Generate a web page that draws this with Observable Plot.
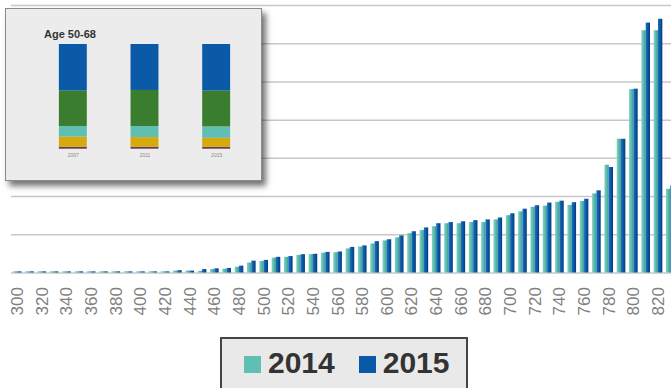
<!DOCTYPE html>
<html>
<head>
<meta charset="utf-8">
<script src="https://cdn.jsdelivr.net/npm/d3@7"></script>
<script src="https://cdn.jsdelivr.net/npm/@observablehq/plot@0.6"></script>
<style>
  html, body { margin: 0; padding: 0; background: #fff; overflow: hidden; }
  #page { position: relative; width: 671px; height: 388px; overflow: hidden; font-family: "Liberation Sans", Arial, sans-serif; }
  #main { position: absolute; left: 0; top: 0; width: 690px; }
  #main svg { max-width: none !important; }
  #inset {
    position: absolute; left: 5px; top: 8px; width: 255px; height: 171px;
    background: #ececec; border: 1px solid #8a8a8a;
    box-shadow: 4px 5px 6px rgba(0,0,0,0.55);
  }
  #inset .title { position: absolute; left: 38px; top: 19px; font: bold 11px "Liberation Sans", Arial, sans-serif; color: #333; }
  #inset svg { position: absolute; left: 0; top: 0; }
  #legend {
    position: absolute; left: 220px; top: 337px; width: 248px; height: 60px;
    background: #e9e9e9; border: 2px solid #444; box-sizing: border-box;
    display: flex; align-items: flex-start; padding: 7px 0 0 22px; gap: 0;
    font: bold 30px "Liberation Sans", Arial, sans-serif; color: #333;
  }
  #legend .item { display: flex; align-items: center; }
  #legend .sw { width: 17px; height: 17px; margin-right: 7px; margin-top: 2px; }
</style>
</head>
<body>
<div id="page">
  <div id="main"></div>
  <div id="inset"><div class="title">Age 50-68</div></div>
  <div id="legend">
    <div class="item"><div class="sw" style="background:#5fbfb2"></div>2014</div>
    <div class="item" style="margin-left:24px"><div class="sw" style="background:#0a58a8"></div>2015</div>
  </div>
</div>
<script>
// Score bands (groups of 10 points)
const scores = [300, 310, 320, 330, 340, 350, 360, 370, 380, 390,
                400, 410, 420, 430, 440, 450, 460, 470, 480, 490,
                500, 510, 520, 530, 540, 550, 560, 570, 580, 590,
                600, 610, 620, 630, 640, 650, 660, 670, 680, 690,
                700, 710, 720, 730, 740, 750, 760, 770, 780, 790,
                800, 810, 820, 830];

const values2014 = [0.3, 0.3, 0.3, 0.3, 0.3, 0.3, 0.3, 0.3, 0.3, 0.3,
                    0.3, 0.3, 0.3, 0.5, 0.5, 0.4, 0.9, 1.0, 1.5, 2.6,
                    3.0, 3.9, 4.1, 4.6, 4.8, 5.2, 5.3, 6.3, 6.8, 7.6,
                    8.4, 9.2, 10.3, 11.1, 12.1, 12.9, 12.9, 13.2, 13.2, 13.9,
                    15.0, 16.0, 17.2, 17.5, 18.5, 17.7, 18.7, 20.7, 28.2, 35.0,
                    48.0, 63.4, 63.4, 21.9];

const values2015 = [0.3, 0.3, 0.3, 0.3, 0.3, 0.3, 0.3, 0.3, 0.3, 0.3,
                    0.3, 0.3, 0.3, 0.6, 0.5, 0.9, 1.1, 1.2, 1.8, 3.1,
                    3.3, 4.1, 4.3, 4.8, 4.9, 5.4, 5.5, 6.7, 7.1, 8.2,
                    8.7, 9.7, 10.8, 11.8, 12.9, 13.2, 13.4, 13.7, 13.9, 14.4,
                    15.5, 16.7, 17.6, 18.3, 18.8, 18.4, 19.3, 21.5, 27.6, 35.0,
                    48.1, 65.4, 66.4, 22.8];

const xTickLabels = [300, 320, 340, 360, 380, 400, 420, 440, 460, 480, 500,
                     520, 540, 560, 580, 600, 620, 640, 660, 680, 700, 720,
                     740, 760, 780, 800, 820];
const yGrid = [0, 10, 20, 30, 40, 50, 60, 70];

// Inset: age 50-68 composition (percent, bottom to top)
const insetYears = ["2007", "2011", "2015"];
const insetSegments = ["s1", "s2", "s3", "s4", "s5"];
const insetColors = ["#6e3b50", "#d6aa0c", "#5fbfb2", "#3a7d2f", "#0a5aa8"];
const insetS1 = [1.9, 1.9, 1.9];
const insetS2 = [9.6, 9.2, 8.5];
const insetS3 = [10.2, 10.5, 10.9];
const insetS4 = [33.8, 34.5, 34.2];
const insetS5 = [44.5, 43.9, 44.5];

const rows14 = scores.map((s, i) => ({score: s, value: values2014[i]}));
const rows15 = scores.map((s, i) => ({score: s, value: values2015[i]}));

const main = Plot.plot({
  width: 690,
  height: 320,
  marginLeft: 11,
  marginRight: 13.5,
  marginTop: 5,
  marginBottom: 47.5,
  style: {fontSize: "17px", fontFamily: "'Liberation Sans', Arial, sans-serif", color: "#808080", background: "transparent", maxWidth: "none"},
  x: {type: "band", domain: scores, paddingInner: 0.3, paddingOuter: 0.15, round: false,
      ticks: xTickLabels, tickRotate: -90, tickSize: 0, tickPadding: 14, label: null},
  y: {domain: [0, 70], axis: null},
  marks: [
    Plot.ruleY(yGrid, {stroke: "#c8c8c8", strokeWidth: 1.5}),
    Plot.barY(rows14, {x: "score", y: "value", fill: "url(#grad14)", insetRight: 4.3}),
    Plot.barY(rows15, {x: "score", y: "value", fill: "url(#grad15)", insetLeft: 4.3})
  ]
});

// Cylinder-like shading for the bars
const defs = d3.select(main).insert("defs", ":first-child");
function grad(id, stops) {
  const g = defs.append("linearGradient").attr("id", id).attr("x1", 0).attr("x2", 1).attr("y1", 0).attr("y2", 0);
  stops.forEach(([o, c]) => g.append("stop").attr("offset", o).attr("stop-color", c));
}
grad("grad14", [[0, "#7fd3c7"], [0.45, "#5fbfb2"], [1, "#3e9a8e"]]);
grad("grad15", [[0, "#1f70c2"], [0.5, "#0a58a8"], [1, "#053b78"]]);
document.getElementById("main").appendChild(main);

// Inset chart
const insetRows = [];
insetYears.forEach((yr, i) => {
  const vals = [insetS1[i], insetS2[i], insetS3[i], insetS4[i], insetS5[i]];
  insetSegments.forEach((s, j) => insetRows.push({year: yr, seg: s, value: vals[j]}));
});

const inset = Plot.plot({
  width: 255,
  height: 171,
  marginLeft: 31,
  marginRight: 9,
  marginTop: 35,
  marginBottom: 31.3,
  style: {fontSize: "5px", fontFamily: "'Liberation Sans', Arial, sans-serif", color: "#8a8a8a", background: "transparent"},
  x: {domain: insetYears, paddingInner: 0.61, paddingOuter: 0.305, round: false, tickSize: 0, tickPadding: 4, label: null},
  y: {domain: [0, 100], axis: null},
  color: {domain: insetSegments, range: insetColors},
  marks: [
    Plot.ruleY([10, 20, 30, 40, 50, 60, 70, 80, 90, 100], {stroke: "#e2e2e2", strokeWidth: 0.6, x1: 2, x2: 248}),
    Plot.barY(insetRows, {x: "year", y: "value", fill: "seg", order: insetSegments}),
    Plot.ruleY([0], {stroke: "#c4c4c4", strokeWidth: 1, x1: -1, x2: 249})
  ]
});
document.getElementById("inset").appendChild(inset);
</script>
</body>
</html>
